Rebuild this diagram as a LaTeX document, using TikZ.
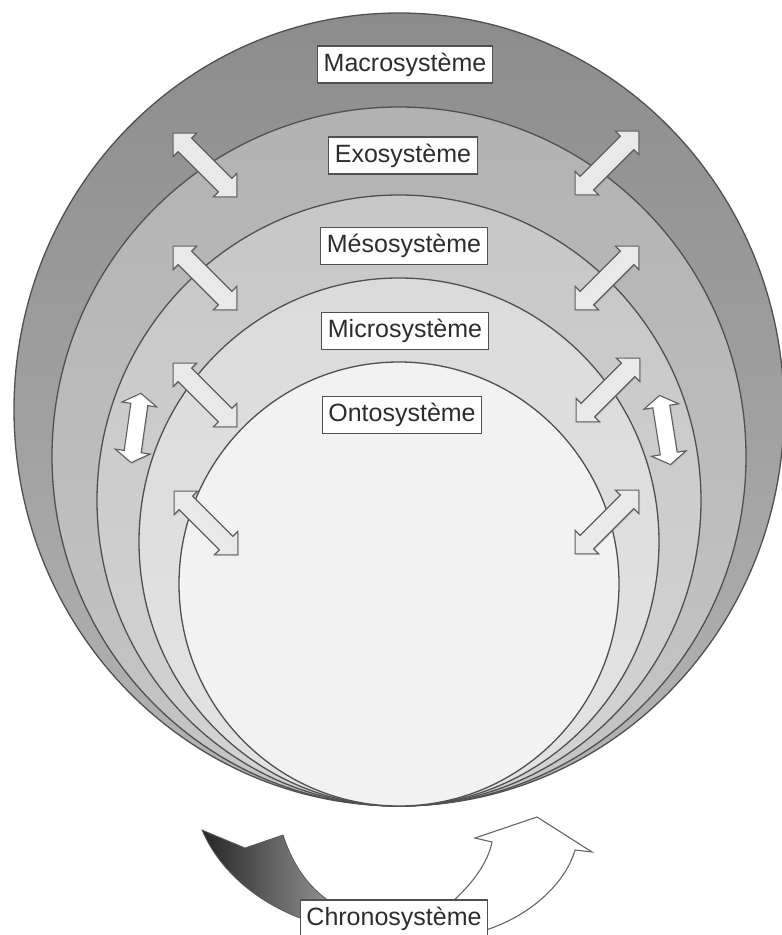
\documentclass[tikz,border=0pt]{standalone}
\usepackage{fontspec}
\setmainfont{Liberation Sans}
\usetikzlibrary{shapes.arrows,shadows}
\definecolor{lineC}{RGB}{80,80,80}
\definecolor{macroT}{RGB}{140,140,140}
\definecolor{macroB}{RGB}{180,180,180}
\definecolor{exoT}{RGB}{178,178,178}
\definecolor{exoB}{RGB}{198,198,198}
\definecolor{mesoT}{RGB}{199,199,199}
\definecolor{mesoB}{RGB}{211,211,211}
\definecolor{microT}{RGB}{219,219,219}
\definecolor{microB}{RGB}{227,227,227}
\definecolor{ontoC}{RGB}{242,242,242}
\definecolor{arrowF}{RGB}{233,233,233}
\definecolor{arrowD}{RGB}{95,95,95}
\definecolor{txtC}{RGB}{45,45,45}
\begin{document}
\begin{tikzpicture}[x=1pt,y=-1pt,
  ring/.style={draw=lineC, line width=1.3pt},
  lab/.style={draw=lineC, fill=white, line width=1.1pt, text=txtC,
    font=\fontsize{25}{27}\selectfont, inner xsep=6pt, inner ysep=0pt,
    minimum height=37pt},
  dblarrow/.style={double arrow, draw=arrowD, fill=arrowF, line width=1.1pt,
    inner xsep=0pt, inner ysep=9pt, double arrow head extend=7pt,
    minimum height=90pt,
    drop shadow={opacity=0.25, shadow xshift=1.2pt, shadow yshift=-1.2pt}},
  vertarrow/.style={dblarrow, fill=white, minimum height=70pt,
    inner ysep=8pt, double arrow head extend=9pt, double arrow tip angle=115}
]
\useasboundingbox (0,0) rectangle (782,935);
\fill[white] (0,0) rectangle (782,935);

% nested systems
\shade[top color=macroT, bottom color=macroB] (399,409.5) ellipse [x radius=385pt, y radius=396.5pt];
\draw[ring] (399,409.5) ellipse [x radius=385pt, y radius=396.5pt];
\shade[top color=exoT, bottom color=exoB] (399,456.5) ellipse [x radius=347pt, y radius=349.5pt];
\draw[ring] (399,456.5) ellipse [x radius=347pt, y radius=349.5pt];
\shade[top color=mesoT, bottom color=mesoB] (399,500.5) ellipse [x radius=302pt, y radius=305.5pt];
\draw[ring] (399,500.5) ellipse [x radius=302pt, y radius=305.5pt];
\shade[top color=microT, bottom color=microB] (399,542) ellipse [x radius=260pt, y radius=264pt];
\draw[ring] (399,542) ellipse [x radius=260pt, y radius=264pt];
\fill[ontoC] (399,584) ellipse [x radius=220pt, y radius=222pt];
\draw[ring] (399,584) ellipse [x radius=220pt, y radius=222pt];

% interaction arrows
\node[dblarrow, rotate=-45] (l1) at (205,165) {};
\node[dblarrow, rotate=-45] (l2) at (205,278) {};
\node[dblarrow, rotate=-45] (l3) at (205,395) {};
\node[dblarrow, rotate=-45] (l4) at (206,523) {};
\node[dblarrow, rotate=45] (r1) at (607,163) {};
\node[dblarrow, rotate=45] (r2) at (607,278) {};
\node[dblarrow, rotate=45] (r3) at (608,390) {};
\node[dblarrow, rotate=45] (r4) at (607,522) {};
\node[vertarrow, rotate=82] (vl) at (136,428) {};
\node[vertarrow, rotate=99] (vr) at (665,430) {};

% labels
\node[lab] (macro) at (405,64.5) {Macrosystème};
\node[lab] (exo) at (403,155.5) {Exosystème};
\node[lab] (meso) at (404,246) {Mésosystème};
\node[lab] (micro) at (405,331) {Microsystème};
\node[lab] (onto) at (402,415) {Ontosystème};

% chronosystem
\shade[left color=black!85, right color=black!42, draw=black!65, line width=0.8pt]
  (202,830) -- (245,848) -- (283,835)
  .. controls (292,862) and (306,886) .. (332,903)
  -- (300,918)
  .. controls (258,902) and (220,872) .. (202,830) -- cycle;
\filldraw[fill=white, draw=black!60, line width=1.1pt]
  (452,902) .. controls (474,882) and (488,862) .. (492,842)
  -- (475,838) -- (537,817) -- (592,852) -- (575,850)
  .. controls (566,882) and (532,915) .. (486,930) -- cycle;
\node[lab] (chrono) at (394,918.5) {Chronosystème};
\end{tikzpicture}
\end{document}
